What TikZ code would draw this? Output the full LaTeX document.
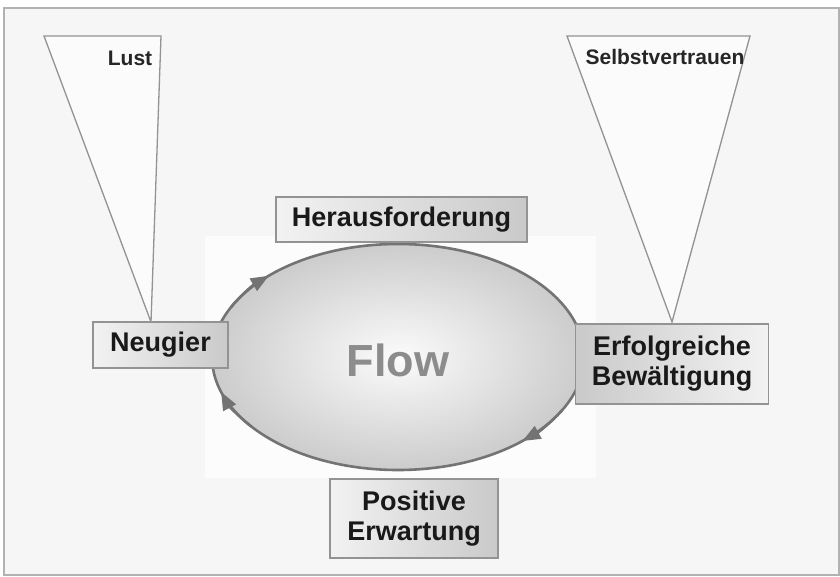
\documentclass[tikz,border=0pt]{standalone}
\usepackage{fontspec}
\setmainfont{Liberation Sans}
\usetikzlibrary{shapes.geometric,arrows.meta}
\tikzset{
  kasten/.style={draw=gray!85,line width=1.3pt,left color=gray!10,right color=gray!42,inner sep=0pt,
    text=black!90,font=\fontsize{27}{30}\selectfont\bfseries,align=center},
  trichter/.style={draw=gray!85,line width=1.3pt,fill=gray!3},
  kreislinie/.style={draw=black!55,line width=2.6pt},
  pfeil/.style={kreislinie,-{Triangle[length=18pt,width=14pt]}}
}
\begin{document}
\begin{tikzpicture}[x=1pt,y=-1pt]
\useasboundingbox (0,0) rectangle (840,577);
\draw[gray!60,line width=1.5pt,fill=gray!7] (4,8) rectangle (839,575);
\fill[gray!2] (205,236) rectangle (596,478);
% Trichter
\draw[trichter] (44,36) -- (161,36) -- (151,322) -- cycle;
\draw[trichter] (567,36) -- (750,36) -- (672,322) -- cycle;
\node[font=\fontsize{21}{24}\selectfont\bfseries,text=black!85] (lust) at (130,58) {Lust};
\node[font=\fontsize{21}{24}\selectfont\bfseries,text=black!85] (selbst) at (665,57) {Selbstvertrauen};
% Kreislauf
\node[ellipse,minimum width=372pt,minimum height=226pt,inner sep=0pt,inner color=gray!3,outer color=gray!40,kreislinie] (flow) at (398,357) {};
\draw[pfeil] ([shift={(206:186 and 113)}]flow.center) arc[start angle=206,end angle=226,x radius=186,y radius=113];
\draw[pfeil] ([shift={(142:186 and 113)}]flow.center) arc[start angle=142,end angle=162,x radius=186,y radius=113];
\draw[pfeil] ([shift={(28:186 and 113)}]flow.center) arc[start angle=28,end angle=48,x radius=186,y radius=113];
\node[font=\fontsize{45}{48}\selectfont\bfseries,text=black!45] (flowtext) at (398,360) {Flow};
% Stationen
\node[kasten,minimum width=251pt,minimum height=45pt] (heraus) at (401.5,219.5) {Herausforderung};
\node[kasten,minimum width=135pt,minimum height=46pt] (neugier) at (160.5,345) {Neugier};
\node[kasten,left color=gray!42,right color=gray!10,minimum width=193pt,minimum height=80pt] (erfolg) at (672,364) {Erfolgreiche\\Bewältigung};
\node[kasten,minimum width=168pt,minimum height=79pt] (erwart) at (414,518.5) {Positive\\Erwartung};
\end{tikzpicture}
\end{document}
